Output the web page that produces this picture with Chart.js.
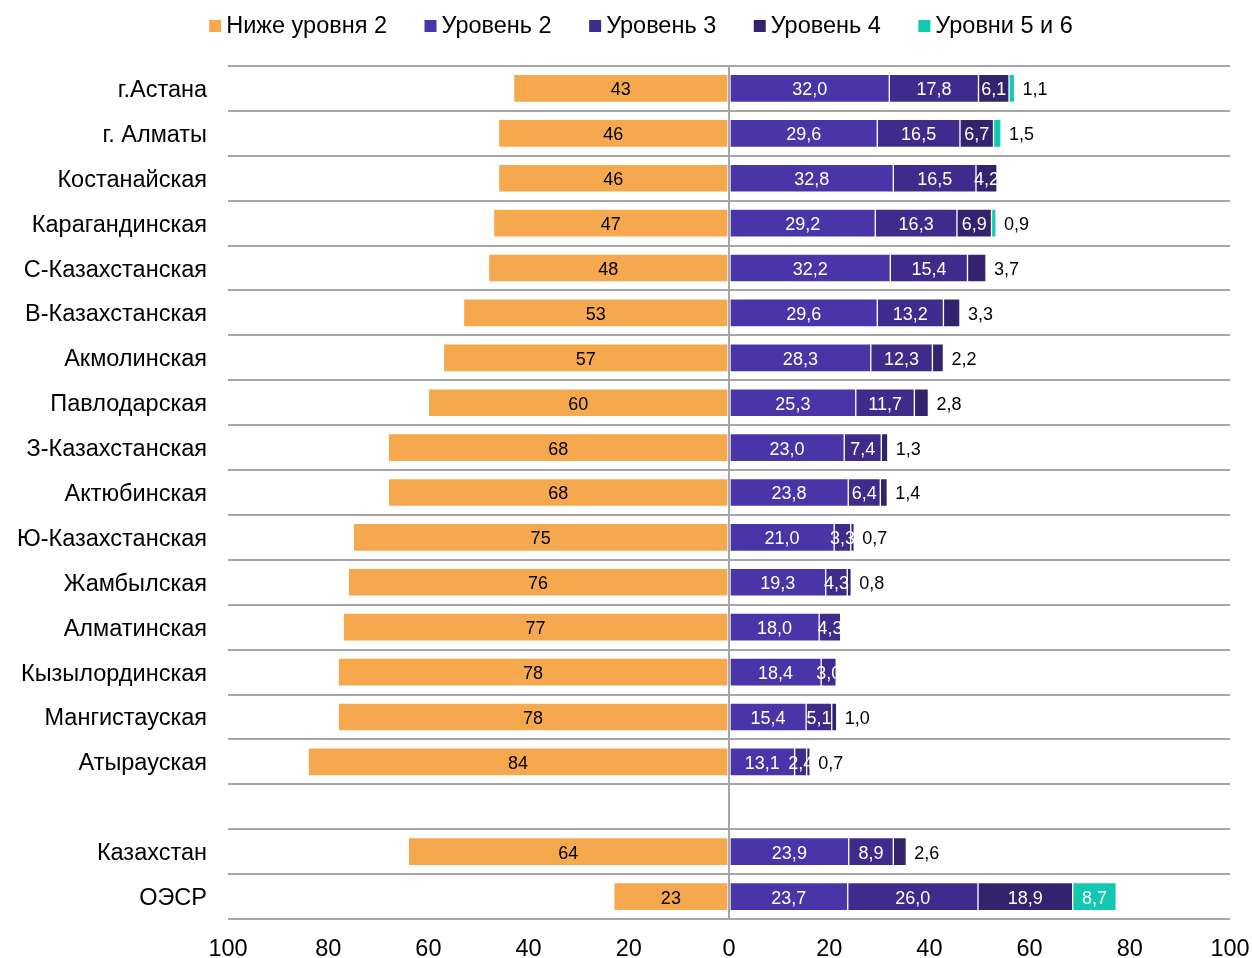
<!DOCTYPE html>
<html lang="ru">
<head>
<meta charset="utf-8">
<title>Уровни владения</title>
<script src="https://cdn.jsdelivr.net/npm/chart.js@4.4.1/dist/chart.umd.min.js"></script>
<style>
  html, body { margin: 0; padding: 0; background: #ffffff; }
  #wrap { position: relative; width: 1252px; height: 958px; }
</style>
</head>
<body>
<div id="wrap"><canvas id="chart" width="1252" height="958"></canvas></div>
<script>
// Regions (blank entry separates the regions from the national / OECD rows)
const categories = [
  'г.Астана', 'г. Алматы', 'Костанайская', 'Карагандинская', 'С-Казахстанская',
  'В-Казахстанская', 'Акмолинская', 'Павлодарская', 'З-Казахстанская', 'Актюбинская',
  'Ю-Казахстанская', 'Жамбылская', 'Алматинская', 'Кызылординская', 'Мангистауская',
  'Атырауская', '', 'Казахстан', 'ОЭСР'
];

const seriesNames = ['Ниже уровня 2', 'Уровень 2', 'Уровень 3', 'Уровень 4', 'Уровни 5 и 6'];

// Share of students, %
const belowLevel2 = [43, 46, 46, 47, 48, 53, 57, 60, 68, 68, 75, 76, 77, 78, 78, 84, null, 64, 23];
const level2 = [32.0, 29.6, 32.8, 29.2, 32.2, 29.6, 28.3, 25.3, 23.0, 23.8, 21.0, 19.3, 18.0, 18.4, 15.4, 13.1, null, 23.9, 23.7];
const level3 = [17.8, 16.5, 16.5, 16.3, 15.4, 13.2, 12.3, 11.7, 7.4, 6.4, 3.3, 4.3, 4.3, 3.0, 5.1, 2.4, null, 8.9, 26.0];
const level4 = [6.1, 6.7, 4.2, 6.9, 3.7, 3.3, 2.2, 2.8, 1.3, 1.4, 0.7, 0.8, null, null, 1.0, 0.7, null, 2.6, 18.9];
const level56 = [1.1, 1.5, null, 0.9, null, null, null, null, null, null, null, null, null, null, null, null, null, null, 8.7];

const xTickLabels = ['100', '80', '60', '40', '20', '0', '20', '40', '60', '80', '100'];

const colors = ['#F5A84E', '#4A35A8', '#3E2B8C', '#33236F', '#12C8B0'];
const FONT = '"Liberation Sans", Arial, sans-serif';
const TEXT_SIZE = 23.5;

const datasets = [
  belowLevel2.map(v => v == null ? null : -v),
  level2, level3, level4, level56
].map((data, i) => ({
  label: seriesNames[i],
  data: data,
  backgroundColor: colors[i],
  borderColor: i === 0 ? 'rgba(255,255,255,0.25)' : 'rgba(255,255,255,0.14)',
  borderWidth: 1,
  borderSkipped: false,
  barThickness: 28
}));

// Legend row drawn across the top
const topLegend = {
  id: 'topLegend',
  afterDraw(chart) {
    const ctx = chart.ctx;
    ctx.save();
    ctx.font = TEXT_SIZE + 'px ' + FONT;
    ctx.textBaseline = 'middle';
    ctx.textAlign = 'left';
    const box = 12, gapBox = 5, gapItem = 37.5, cy = 26;
    const items = chart.data.datasets.map(d => ({ text: d.label, color: d.backgroundColor, w: ctx.measureText(d.label).width }));
    const total = items.reduce((s, it) => s + box + gapBox + it.w, 0) + gapItem * (items.length - 1);
    let x = 641 - total / 2;
    items.forEach(it => {
      ctx.fillStyle = it.color;
      ctx.fillRect(x, cy - box / 2, box, box);
      ctx.fillStyle = '#000';
      ctx.fillText(it.text, x + box + gapBox, cy + 1);
      x += box + gapBox + it.w + gapItem;
    });
    ctx.restore();
  }
};

// Value labels: inside the segment, or after the bar end when the segment is narrow
const valueLabels = {
  id: 'valueLabels',
  afterDatasetsDraw(chart) {
    const ctx = chart.ctx;
    ctx.save();
    ctx.font = '18px ' + FONT;
    ctx.textBaseline = 'middle';
    const n = chart.data.labels.length;
    for (let i = 0; i < n; i++) {
      let end = null;
      for (let d = 1; d < chart.data.datasets.length; d++) {
        const v = chart.data.datasets[d].data[i];
        if (v) {
          const el = chart.getDatasetMeta(d).data[i];
          end = end == null ? el.x : Math.max(end, el.x);
        }
      }
      chart.data.datasets.forEach((ds, d) => {
        const v = ds.data[i];
        if (!v) return;
        const el = chart.getDatasetMeta(d).data[i];
        const { x, y, base } = el.getProps(['x', 'y', 'base'], true);
        const text = d === 0 ? String(Math.abs(v)) : v.toFixed(1).replace('.', ',');
        const inside = d <= 2 || v >= 4;
        if (inside) {
          ctx.textAlign = 'center';
          ctx.fillStyle = d === 0 ? '#000' : '#fff';
          ctx.fillText(text, (x + base) / 2, y + 2);
        } else {
          ctx.textAlign = 'left';
          ctx.fillStyle = '#000';
          ctx.fillText(text, end + 8, y + 2);
        }
      });
    }
    ctx.restore();
  }
};

new Chart(document.getElementById('chart'), {
  type: 'bar',
  data: { labels: categories, datasets: datasets },
  plugins: [topLegend, valueLabels],
  options: {
    indexAxis: 'y',
    responsive: false,
    animation: false,
    events: [],
    layout: { padding: { top: 66, right: 22, left: 0, bottom: 0 } },
    plugins: { legend: { display: false }, tooltip: { enabled: false } },
    scales: {
      x: {
        stacked: true,
        min: -100,
        max: 100,
        ticks: {
          stepSize: 20,
          color: '#000',
          font: { family: FONT, size: TEXT_SIZE },
          padding: 16,
          maxRotation: 0,
          callback: (value, idx) => xTickLabels[idx]
        },
        grid: {
          drawTicks: false,
          color: c => (c.tick && c.tick.value === 0) ? '#A6A6A6' : 'rgba(0,0,0,0)',
          lineWidth: 2
        },
        border: { display: false },
        afterFit: s => { s.height = 39; s.paddingLeft = 0; s.paddingRight = 0; }
      },
      y: {
        stacked: true,
        ticks: {
          color: '#000',
          font: { family: FONT, size: TEXT_SIZE },
          padding: 21,
          labelOffset: 2,
          autoSkip: false
        },
        grid: {
          offset: true,
          drawTicks: false,
          color: '#A6A6A6',
          lineWidth: 2
        },
        border: { display: false },
        afterFit: s => { s.width = 228; }
      }
    }
  }
});
</script>
</body>
</html>
